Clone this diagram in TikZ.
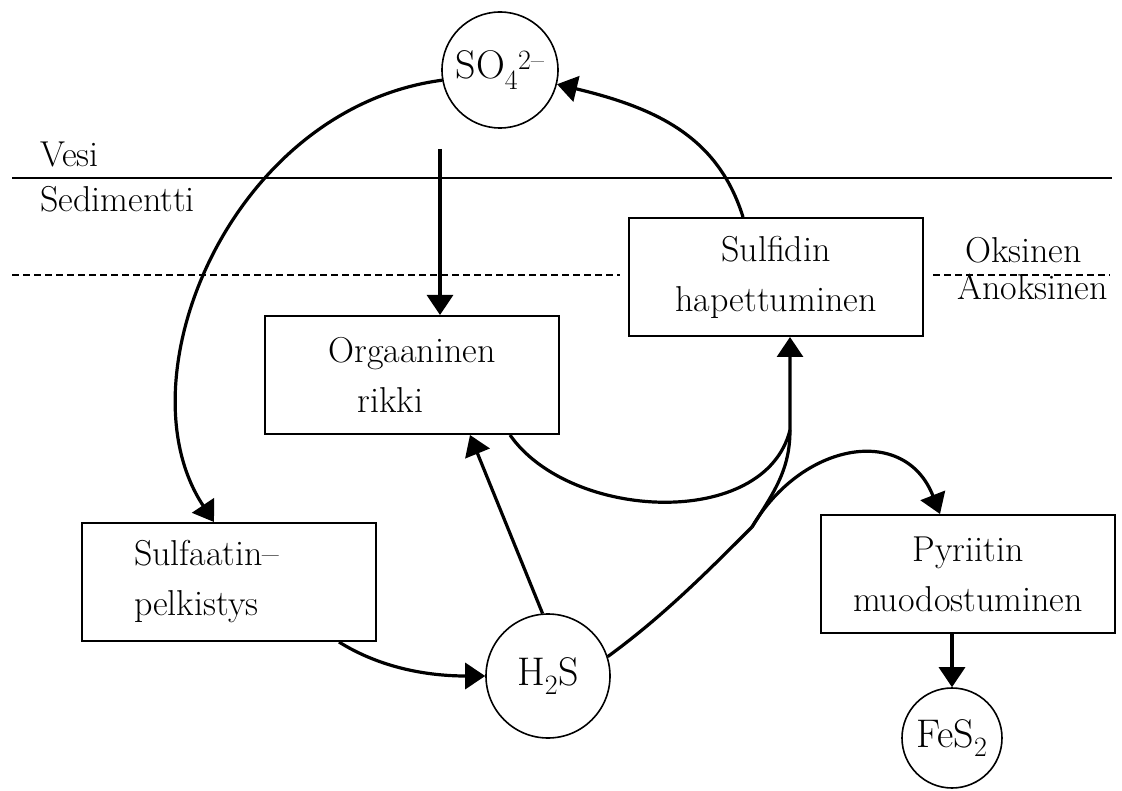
\documentclass[tikz,border=0pt]{standalone}
\usepackage{tikz}
\usetikzlibrary{arrows.meta}

\tikzset{
  box/.style={draw, line width=2pt, minimum width=294pt, minimum height=118pt,
    inner sep=0pt, align=center, font=\fontsize{36}{50}\selectfont},
  chem/.style={draw, circle, line width=1.6pt, inner sep=0pt,
    font=\fontsize{40}{46}\selectfont},
  flow/.style={line width=3.2pt, -{Triangle[length=20pt,width=26pt]}},
  layer/.style={anchor=base west, inner sep=0pt, font=\fontsize{36}{40}\selectfont},
  border/.style={line width=1.6pt}
}

\begin{document}
\begin{tikzpicture}[x=1pt,y=-1pt]
\useasboundingbox (0,0) rectangle (1122,791);

\draw[border] (12,178) -- (1112,178);
\draw[border, dash pattern=on 7pt off 4pt] (12,275) -- (620,275);
\draw[border, dash pattern=on 7pt off 4pt] (933,275) -- (1110,275);

\node[layer] (vesi) at (40,167) {Vesi};
\node[layer] (sedimentti) at (40,212) {Sedimentti};
\node[layer] (oksinen) at (965,263) {Oksinen};
\node[layer] (anoksinen) at (957,300) {Anoksinen};

\node[chem, minimum size=116pt] (so4) at (500,70) {SO\textsubscript{4}\textsuperscript{2--}};
\node[chem, minimum size=124pt] (h2s) at (548,676) {H\textsubscript{2}S};
\node[chem, minimum size=100pt] (fes2) at (952,738) {FeS\textsubscript{2}};

\node[box] (sulfidin) at (776,277) {Sulfidin\\hapettuminen};
\node[box, align=left] (orgaaninen) at (412,375) {Orgaaninen\\\hspace*{29pt}rikki};
\node[box, align=left, text width=190pt] (sulfaatin) at (229,582) {Sulfaatin--\\pelkistys};
\node[box] (pyriitin) at (968,574) {Pyriitin\\muodostuminen};

\coordinate (fork) at (752,527);
\coordinate (merge) at (790,430);

\draw[flow] (so4.190) .. controls +(-211,28) and +(-95,-143) .. ([xshift=-15pt]sulfaatin.north);
\draw[flow] ([xshift=110pt]sulfaatin.south) .. controls +(40,25) and +(-60,0) .. (h2s.west);
\draw[flow] (h2s.95) -- ([xshift=58pt]orgaaninen.south);
\draw[line width=3.2pt] (h2s.18) .. controls +(55,-40) and +(-45,45) .. (fork);
\draw[flow] (fork) .. controls +(22,-35) and +(0,40) .. (merge) -- ([xshift=14pt]sulfidin.south);
\draw[flow] (fork) .. controls +(50,-85) and +(-35,-90) .. ([xshift=-28pt]pyriitin.north);
\draw[line width=3.2pt] ([xshift=98pt]orgaaninen.south) .. controls +(60,86) and +(-25,100) .. (merge);
\draw[flow] ([xshift=-33pt]sulfidin.north) .. controls +(-25,-80) and +(100,24) .. (so4.-14);
\draw[flow] ([xshift=-60pt,yshift=-20pt]so4.south) -- ([xshift=28pt]orgaaninen.north);
\draw[flow] (fes2.north |- pyriitin.south) -- (fes2.north);
\end{tikzpicture}
\end{document}
